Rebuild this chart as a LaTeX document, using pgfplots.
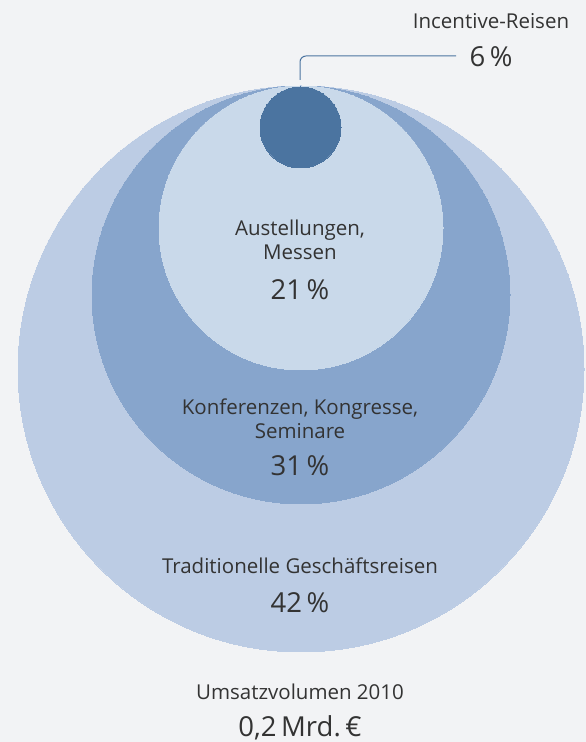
\documentclass[border=0pt]{standalone}
\usepackage{pgfplots}
\pgfplotsset{compat=1.18}
\usepackage{fontspec}
\setmainfont{Open Sans}
\definecolor{bg}{HTML}{F2F3F5}
\definecolor{cOuter}{HTML}{BCCCE4}
\definecolor{cSecond}{HTML}{87A5CC}
\definecolor{cThird}{HTML}{C9D9EA}
\definecolor{cSmall}{HTML}{4B74A0}
\definecolor{txt}{HTML}{333333}
\begin{document}
\begin{tikzpicture}
\begin{axis}[
  width=586bp, height=742bp, scale only axis,
  xmin=0, xmax=586, ymin=0, ymax=742,
  hide axis, clip=false, set layers,
]
\fill[bg] (axis cs:0,0) rectangle (axis cs:586,742);
% circles: centre (x,y), radius in px
\addplot[only marks, mark=*, mark size=283bp, color=cOuter, line width=0pt] coordinates {(301,373)};
\addplot[only marks, mark=*, mark size=209bp, color=cSecond, line width=0pt] coordinates {(301,447)};
\addplot[only marks, mark=*, mark size=142bp, color=cThird, line width=0pt] coordinates {(301,514)};
\addplot[only marks, mark=*, mark size=40.5bp, color=cSmall, line width=0pt] coordinates {(300.5,614.5)};
% leader line
\addplot[cSmall, line width=1pt, rounded corners=6bp] coordinates {(300,662) (300,686) (456,686)};
% labels
\begin{pgfonlayer}{axis foreground}
\begin{scope}[every node/.style={text=txt, align=center, inner sep=0pt},
  lab/.style={font=\fontsize{20.5bp}{24.5bp}\selectfont},
  num/.style={font=\fontsize{27.5bp}{30bp}\selectfont}]
\node[lab] at (axis cs:491,721) {Incentive-Reisen};
\node[num] at (axis cs:491,685) {6\,\%};
\node[lab] at (axis cs:300,502) {Austellungen,\\Messen};
\node[num] at (axis cs:300,452) {21\,\%};
\node[lab] at (axis cs:300,323) {Konferenzen, Kongresse,\\Seminare};
\node[num] at (axis cs:300,276) {31\,\%};
\node[lab] at (axis cs:300,176) {Traditionelle Geschäftsreisen};
\node[num] at (axis cs:300,139) {42\,\%};
\node[lab] at (axis cs:300,50) {Umsatzvolumen 2010};
\node[num] at (axis cs:300,14) {0,2\,Mrd.\,€};
\end{scope}
\end{pgfonlayer}
\end{axis}
\end{tikzpicture}
\end{document}
